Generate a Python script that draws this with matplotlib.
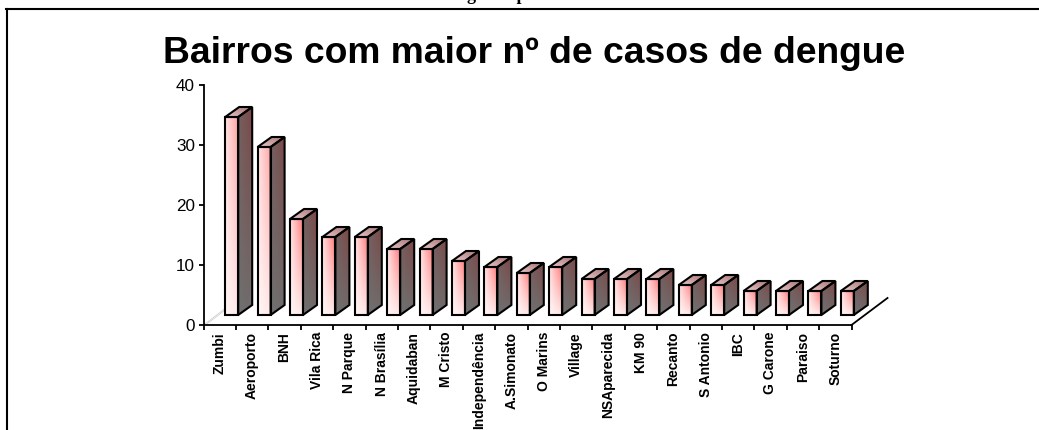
import numpy as np
import matplotlib
matplotlib.use('Agg')
import matplotlib.pyplot as plt
from matplotlib.lines import Line2D
from matplotlib.patches import Polygon

bairros = ['Zumbi', 'Aeroporto', 'BNH', 'Vila Rica', 'N Parque', 'N Brasília', 'Aquidaban',
           'M Cristo', 'Independência', 'A.Simonato', 'O Marins', 'Village', 'NSAparecida',
           'KM 90', 'Recanto', 'S Antonio', 'IBC', 'G Carone', 'Paraiso', 'Soturno']
casos = [33, 28, 16, 13, 13, 11, 11, 9, 8, 7, 8, 6, 6, 6, 5, 5, 4, 4, 4, 4]
yticks = [0, 10, 20, 30, 40]

W, H = 1039, 430
plt.rcParams['font.family'] = ['Liberation Sans', 'DejaVu Sans']

fig = plt.figure(figsize=(W / 100, H / 100), dpi=100)
ax = fig.add_axes([203.5 / W, 1 - 325 / H, 648 / W, 240 / H])
ax.set_xlim(0, len(casos))
ax.set_ylim(0, 40)
px = len(casos) / 648   # one pixel in data units
py = 40 / 240

# page frame and the cut off line of text above it
fig.add_artist(Line2D([6 / W, 1], [1 - 9 / H, 1 - 9 / H], color='black', lw=1.5))
fig.add_artist(Line2D([7 / W, 7 / W], [0, 1 - 9 / H], color='black', lw=1.5))
fig.text(497 / W, 1 - 0.5 / H, 'g         p', family='Liberation Serif', weight='bold', fontsize=13,
         ha='center', va='baseline')

fig.text(534 / W, 1 - 63 / H, 'Bairros com maior nº de casos de dengue', weight='bold', fontsize=26.8,
         ha='center', va='baseline')


def gradient(c00, c10, c01, c11):
    # corners: bottom-left, bottom-right, top-left, top-right
    u = np.linspace(0, 1, 24)[None, :, None]
    v = np.linspace(0, 1, 48)[:, None, None]
    c = [np.array(k)[None, None, :] / 255 for k in (c00, c10, c01, c11)]
    return (1 - v) * ((1 - u) * c[0] + u * c[1]) + v * ((1 - u) * c[2] + u * c[3])


def face(corners, img):
    xs = [p[0] for p in corners]
    ys = [p[1] for p in corners]
    im = ax.imshow(img, extent=[min(xs), max(xs), min(ys), max(ys)], origin='lower', aspect='auto',
                   interpolation='bilinear', zorder=2)
    poly = Polygon(corners, closed=True, fc='none', ec='black', lw=1.5, joinstyle='miter', zorder=3,
                   clip_on=False)
    ax.add_patch(poly)
    im.set_clip_path(poly)
    im.set_clip_box(fig.bbox)   # last bar sticks out of the axes


bar_w = 13 * px
off_x, off_y = 12 * px, 10 * py
dep_x, dep_y = 14 * px, 10 * py

for i, v in enumerate(casos):
    x0 = i + 0.5 - bar_w / 2 + off_x
    x1 = x0 + bar_w
    y0 = off_y
    y1 = off_y + v
    red = 125 if v < 20 else 165
    face([(x0, y0), (x1, y0), (x1, y1), (x0, y1)],
         gradient((255, 246, 246), (255, 232, 232), (255, 226, 226), (255, red, red)))
    face([(x1, y0), (x1 + dep_x, y0 + dep_y), (x1 + dep_x, y1 + dep_y), (x1, y1)],
         gradient((112, 112, 112), (112, 108, 108), (116, 96, 96), (125, 72, 72)))
    face([(x0, y1), (x1, y1), (x1 + dep_x, y1 + dep_y), (x0 + dep_x, y1 + dep_y)],
         gradient((238, 205, 205), (190, 150, 150), (200, 160, 160), (170, 120, 120)))

# hairlines of the floor on the left, floor edge on the right
for d in (0, 2):
    ax.plot([0 + d * px, 21 * px + d * px], [0, 16 * py], color='#c8c8c8', lw=0.5, zorder=1, clip_on=False)
ax.plot([len(casos), len(casos) + 36 * px], [0, 27 * py], color='black', lw=1.3, clip_on=False, zorder=3)

ax.set_xlim(0, len(casos))
ax.set_ylim(0, 40)
for s in ['top', 'right']:
    ax.spines[s].set_visible(False)
for s in ['left', 'bottom']:
    ax.spines[s].set_linewidth(1.3)

ax.set_yticks(yticks)
ax.tick_params(axis='y', labelsize=12.3, length=3.6, width=1.3, pad=2.5)
ax.set_xticks(np.arange(len(casos) + 1))
ax.set_xticklabels([])
ax.set_xticks(np.arange(len(casos)) + 0.5, minor=True)
ax.set_xticklabels(bairros, minor=True, rotation=90, fontsize=10, fontweight='bold', va='top', ha='center')
ax.tick_params(axis='x', which='major', length=3.6, width=1.3)
ax.tick_params(axis='x', which='minor', length=0, pad=5)

fig.savefig('out.png', dpi=100)
